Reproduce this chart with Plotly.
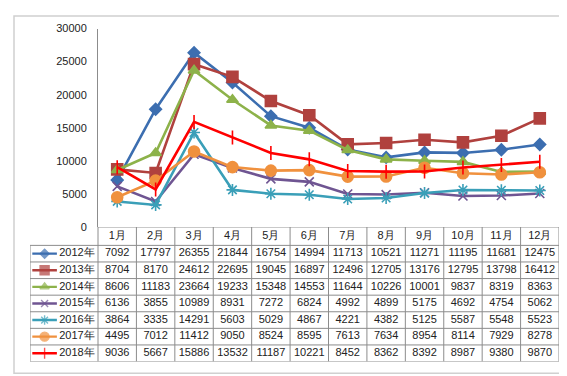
import plotly.graph_objects as go

months = ["1月", "2月", "3月", "4月", "5月", "6月", "7月", "8月", "9月", "10月", "11月", "12月"]
series_names = ["2012年", "2013年", "2014年", "2015年", "2016年", "2017年", "2018年"]
v2012 = [7092, 17797, 26355, 21844, 16754, 14994, 11713, 10521, 11271, 11195, 11681, 12475]
v2013 = [8704, 8170, 24612, 22695, 19045, 16897, 12496, 12705, 13176, 12795, 13798, 16412]
v2014 = [8606, 11183, 23664, 19233, 15348, 14553, 11644, 10226, 10001, 9837, 8319, 8363]
v2015 = [6136, 3855, 10989, 8931, 7272, 6824, 4992, 4899, 5175, 4692, 4754, 5062]
v2016 = [3864, 3335, 14291, 5603, 5029, 4867, 4221, 4382, 5125, 5587, 5548, 5523]
v2017 = [4495, 7012, 11412, 9050, 8524, 8595, 7613, 7634, 8954, 8114, 7929, 8278]
v2018 = [9036, 5667, 15886, 13532, 11187, 10221, 8452, 8362, 8392, 8987, 9380, 9870]
y_ticks = [0, 5000, 10000, 15000, 20000, 25000, 30000]

all_values = [v2012, v2013, v2014, v2015, v2016, v2017, v2018]
colors = ["#3C6EB0", "#B0413E", "#8DB24A", "#6F5592", "#3A9FB8", "#F0913E", "#FF0000"]
symbols = ["diamond", "square", "triangle-up", "x-thin-open", "asterisk-open", "circle", "line-ns-open"]
msizes = [9, 11, 10, 9, 10, 11, 10]

W, H = 567, 376
px_left, px_right = 90, 551
px_top, px_axis = 15, 220
tbl_left, tbl_bottom = 22, 359
col_w = (px_right - px_left) / 12.0
x2_min = -0.5 - (px_left - tbl_left) / col_w
hdr_units = 19 / 17.14
y2_top = -0.5 - hdr_units

fig = go.Figure()
xi = list(range(12))
for name, vals, c, s, ms in zip(series_names, all_values, colors, symbols, msizes):
    fig.add_trace(go.Scatter(
        x=xi, y=vals, mode="lines+markers", name=name,
        line=dict(color=c, width=2.6),
        marker=dict(symbol=s, size=ms, color=c, line=dict(color=c, width=1.6)),
        xaxis="x", yaxis="y", showlegend=False, hoverinfo="skip"))

for r, (name, c, s, ms) in enumerate(zip(series_names, colors, symbols, msizes)):
    fig.add_trace(go.Scatter(
        x=[x2_min + 0.06, x2_min + 0.38, x2_min + 0.70], y=[r, r, r],
        mode="lines+markers", line=dict(color=c, width=2.4),
        marker=dict(symbol=s, size=[0, ms - 2, 0], color=c, line=dict(color=c, width=1.4)),
        xaxis="x2", yaxis="y2", showlegend=False, hoverinfo="skip"))
    fig.add_trace(go.Scatter(
        x=[x2_min + 0.76], y=[r], mode="text", text=[name], textposition="middle right",
        textfont=dict(size=11, color="#222", family="Liberation Sans"),
        xaxis="x2", yaxis="y2", showlegend=False, hoverinfo="skip"))

for r, vals in enumerate(all_values):
    fig.add_trace(go.Scatter(
        x=xi, y=[r] * 12, mode="text", text=[str(v) for v in vals],
        textfont=dict(size=11, color="#222", family="Liberation Sans"),
        xaxis="x2", yaxis="y2", showlegend=False, hoverinfo="skip"))

fig.add_trace(go.Scatter(
    x=xi, y=[-0.5 - hdr_units / 2] * 12, mode="text", text=months,
    textfont=dict(size=11, color="#222", family="Liberation Sans"),
    xaxis="x2", yaxis="y2", showlegend=False, hoverinfo="skip"))

shapes = []
gc = "#8C8C8C"
for k in range(13):
    xv = k - 0.5
    shapes.append(dict(type="line", xref="x2", yref="y2", x0=xv, x1=xv, y0=y2_top, y1=6.5,
                       line=dict(color=gc, width=1)))
shapes.append(dict(type="line", xref="x2", yref="y2", x0=x2_min, x1=x2_min, y0=-0.5, y1=6.5,
                   line=dict(color=gc, width=1)))
for k in range(8):
    yv = k - 0.5
    shapes.append(dict(type="line", xref="x2", yref="y2", x0=x2_min, x1=11.5, y0=yv, y1=yv,
                       line=dict(color=gc, width=1)))
shapes.append(dict(type="line", xref="x2", yref="y2", x0=-0.5, x1=11.5, y0=y2_top, y1=y2_top,
                   line=dict(color=gc, width=1)))
shapes.append(dict(type="rect", xref="paper", yref="paper", x0=6 / W, x1=563 / W,
                   y0=1 - 371 / H, y1=1 - 2 / H, line=dict(color="#D0D0D0", width=1.5)))

fig.update_layout(
    width=W, height=H, margin=dict(l=0, r=0, t=0, b=0),
    paper_bgcolor="white", plot_bgcolor="rgba(0,0,0,0)",
    font=dict(family="Liberation Sans", size=11, color="#222"),
    shapes=shapes,
    xaxis=dict(domain=[px_left / W, px_right / W], range=[-0.5, 11.5], showticklabels=False,
               showgrid=False, zeroline=False, showline=False, fixedrange=True),
    yaxis=dict(domain=[1 - px_axis / H, 1 - px_top / H], range=[0, 30000], tickvals=y_ticks,
               ticktext=[str(v) for v in y_ticks],
               showgrid=False, zeroline=False, showline=True, linecolor=gc, linewidth=1,
               ticks="", tickfont=dict(size=11, color="#222"), ticklabelstandoff=8),
    xaxis2=dict(domain=[tbl_left / W, px_right / W], range=[x2_min, 11.5], visible=False,
                fixedrange=True),
    yaxis2=dict(domain=[1 - tbl_bottom / H, 1 - px_axis / H], range=[6.5, y2_top], visible=False,
                fixedrange=True),
)

fig.write_html("out.html")
